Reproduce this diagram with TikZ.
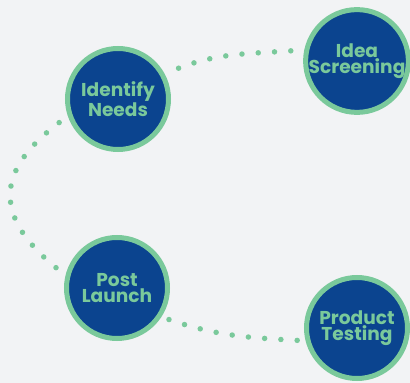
\documentclass[tikz,border=0pt]{standalone}
\usepackage{fontspec}
\setmainfont{Poppins}
\usepackage{xcolor}
\usepackage{tikz}

\definecolor{stageblue}{HTML}{0B448F}
\definecolor{stagegreen}{HTML}{7AC99B}
\definecolor{paper}{HTML}{F2F3F5}

\pgfdeclarelayer{paper}
\pgfdeclarelayer{trail}
\pgfsetlayers{paper,trail,main}

\tikzset{
    stage/.style={circle, fill=stageblue, draw=stagegreen, line width=5pt,
        minimum size=101pt, inner sep=0pt, text=stagegreen, align=center,
        font=\bfseries\fontsize{18.6}{16}\selectfont},
    trail/.style={stagegreen, line width=5.5pt, line cap=round,
        dash pattern=on 0pt off 16.3pt}
}

\begin{document}
\begin{tikzpicture}[x=1pt,y=1pt]
    \useasboundingbox (0,0) rectangle (410,383);
    \begin{pgfonlayer}{paper}
        \fill[paper] (0,0) rectangle (410,383);
    \end{pgfonlayer}
    \node[stage] (needs) at (118,284) {Identify\\Needs};
    \node[stage] (screen) at (357,322) {Idea\\Screening};
    \node[stage] (launch) at (117,95) {Post\\Launch};
    \node[stage] (testing) at (357,55) {Product\\Testing};
    \begin{pgfonlayer}{trail}
        \draw[trail, dash phase=1.3pt] (needs.28) to[out=25,in=185] (screen.168);
        \draw[trail, dash phase=5.5pt] (needs.199) to[out=215,in=143,looseness=1.5] (launch.166);
        \draw[trail, dash phase=8.3pt] (launch.327) to[out=340,in=177] (testing.194);
    \end{pgfonlayer}
\end{tikzpicture}
\end{document}
